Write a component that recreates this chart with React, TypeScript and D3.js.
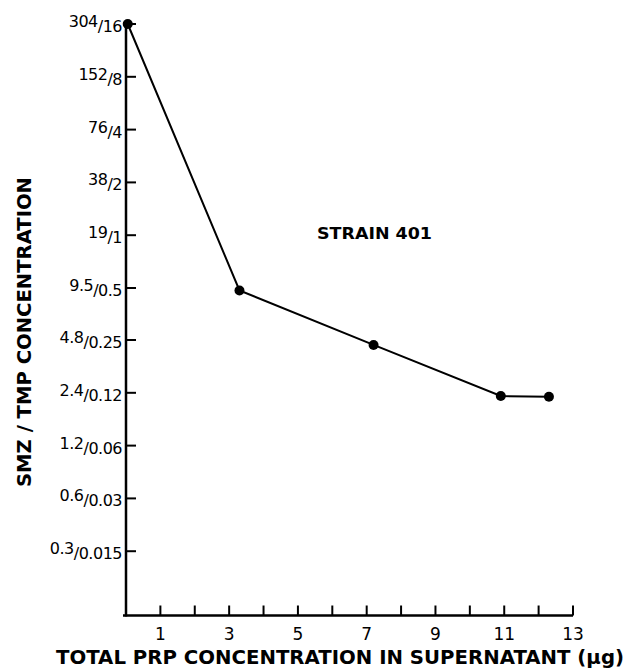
import React from 'react';
import * as d3 from 'd3';

// SMZ / TMP concentration vs total PRP in supernatant, strain 401
const prpValues = [0.05, 3.3, 7.2, 10.9, 12.3];
const smzValues = [304, 9.2, 4.5, 2.3, 2.28];

const smzTicks = [304, 152, 76, 38, 19, 9.5, 4.8, 2.4, 1.2, 0.6, 0.3];
const smzLabels = ['304', '152', '76', '38', '19', '9.5', '4.8', '2.4', '1.2', '0.6', '0.3'];
const tmpLabels = ['16', '8', '4', '2', '1', '0.5', '0.25', '0.12', '0.06', '0.03', '0.015'];
const xTicks = [1, 2, 3, 4, 5, 6, 7, 8, 9, 10, 11, 12, 13];
const xTickLabels = [1, 3, 5, 7, 9, 11, 13];

const W = 628;
const H = 670;

export default function App() {
  const x = d3.scaleLinear().domain([0, 13]).range([126, 573]);
  const y = d3.scaleLog().base(2).domain([0.129, 304]).range([615.5, 24]);

  const pts: [number, number][] = prpValues.map((v, i) => [v, smzValues[i]]);
  const line = d3
    .line<[number, number]>()
    .x((d) => x(d[0]))
    .y((d) => y(d[1]));

  const font = '"DejaVu Sans", sans-serif';

  return (
    <svg
      width={W}
      height={H}
      style={{position: 'absolute', left: 0, top: 0, background: '#fff'}}
      fontFamily={font}
    >
      <rect width={W} height={H} fill="#fff" />

      {/* axes */}
      <line x1={x(0)} x2={x(0)} y1={y(304)} y2={y(0.129) + 1} stroke="#000" strokeWidth={2.5} />
      <line x1={x(0) - 3} x2={x(13)} y1={y(0.129)} y2={y(0.129)} stroke="#000" strokeWidth={2.5} />

      {/* y ticks */}
      {smzTicks.map((v, i) => (
        <g key={'yt' + i}>
          <line x1={x(0)} x2={x(0) + 10} y1={y(v)} y2={y(v)} stroke="#000" strokeWidth={2} />
          <text x={122} y={y(v) + 8} textAnchor="end" fontSize={16} letterSpacing={-0.5} fill="#000">
            <tspan dy={-5}>{smzLabels[i]}</tspan>
            <tspan dy={5}>/{tmpLabels[i]}</tspan>
          </text>
        </g>
      ))}

      {/* x ticks */}
      {xTicks.map((t) => (
        <line key={'xt' + t} x1={x(t)} x2={x(t)} y1={y(0.129)} y2={y(0.129) - 10} stroke="#000" strokeWidth={2} />
      ))}
      {xTickLabels.map((t) => (
        <text key={'xl' + t} x={x(t)} y={640} textAnchor="middle" fontSize={17} fill="#000">
          {t}
        </text>
      ))}

      {/* data */}
      <path d={line(pts) || ''} fill="none" stroke="#000" strokeWidth={2} />
      {pts.map((d, i) => (
        <circle key={'p' + i} cx={x(d[0])} cy={y(d[1])} r={5} fill="#000" />
      ))}

      <text x={317} y={239} fontSize={15} fontWeight="bold" textLength={115} lengthAdjust="spacingAndGlyphs">
        STRAIN 401
      </text>

      {/* titles */}
      <text
        transform="translate(31,332) rotate(-90)"
        textAnchor="middle"
        fontSize={20}
        fontWeight="bold"
        textLength={310}
        lengthAdjust="spacingAndGlyphs"
      >
        SMZ / TMP CONCENTRATION
      </text>
      <text
        x={340}
        y={664}
        textAnchor="middle"
        fontSize={19}
        fontWeight="bold"
        textLength={568}
        lengthAdjust="spacingAndGlyphs"
      >
        TOTAL PRP CONCENTRATION IN SUPERNATANT (μg)
      </text>
    </svg>
  );
}
